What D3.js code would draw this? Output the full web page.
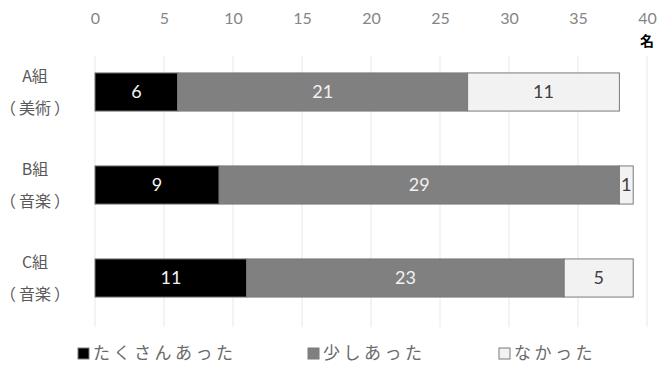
<!DOCTYPE html>
<html>
<head>
<meta charset="utf-8">
<script src="https://cdn.jsdelivr.net/npm/d3@7"></script>
<style>
  body { margin: 0; background: #fff; }
  text { font-family: Lato, "Noto Sans CJK JP", sans-serif; }
  .jp { font-family: "Noto Sans CJK JP", sans-serif; }
</style>
</head>
<body>
<div id="chart"></div>
<script>
// data
var groups = ["A組", "B組", "C組"];
var subjects = ["美術", "音楽", "音楽"];
var seriesNames = ["たくさんあった", "少しあった", "なかった"];
var many = [6, 9, 11];
var some = [21, 29, 23];
var none = [11, 1, 5];
var xTicks = [0, 5, 10, 15, 20, 25, 30, 35, 40];

var width = 665, height = 366;
var colors = ["#000000", "#808080", "#f2f2f2"];
var labelColors = ["#f2f2f2", "#f2f2f2", "#404040"];

var svg = d3.select("#chart")
  .append("svg")
    .attr("width", width)
    .attr("height", height);

var xScale = d3.scaleLinear()
    .domain([0, 40])
    .range([95, 647]);

var yScale = d3.scaleBand()
    .domain(groups)
    .range([45.5, 324.5])
    .paddingInner(0.59)
    .paddingOuter(0.295);

// grid
svg.append("g")
  .selectAll("line")
  .data(xTicks)
  .join("line")
    .attr("x1", d => xScale(d))
    .attr("x2", d => xScale(d))
    .attr("y1", 56)
    .attr("y2", 327)
    .attr("stroke", "#e8e8e8")
    .attr("stroke-width", 1);

// top axis labels
var axis = svg.append("g")
    .attr("transform", "translate(0,24)")
    .call(d3.axisTop(xScale).tickValues(xTicks).tickSize(0).tickPadding(0));
axis.select(".domain").remove();
axis.selectAll("text")
    .attr("fill", "#858585")
    .style("font-size", "16px");

svg.append("text")
    .attr("class", "jp")
    .attr("x", xScale(40))
    .attr("y", 41)
    .attr("dy", "0.36em")
    .attr("text-anchor", "middle")
    .attr("fill", "#000")
    .style("font-size", "14px")
    .style("font-weight", "bold")
    .text("名");

// stacked data
var rows = groups.map(function(g, i) {
  return { group: g, vals: [many[i], some[i], none[i]] };
});

var barG = svg.append("g");
rows.forEach(function(r) {
  var start = 0;
  r.vals.forEach(function(v, k) {
    var x0 = xScale(start), x1 = xScale(start + v);
    barG.append("rect")
      .attr("x", x0)
      .attr("y", yScale(r.group))
      .attr("width", x1 - x0)
      .attr("height", yScale.bandwidth())
      .attr("fill", colors[k])
      .attr("stroke", "#7a7a7a")
      .attr("stroke-width", 1);
    barG.append("text")
      .attr("x", (x0 + x1) / 2)
      .attr("y", yScale(r.group) + yScale.bandwidth() / 2)
      .attr("dy", "0.36em")
      .attr("text-anchor", "middle")
      .attr("fill", labelColors[k])
      .style("font-size", "18px")
      .text(v);
    start += v;
  });
});

// category labels
groups.forEach(function(g, i) {
  var cy = yScale(g) + yScale.bandwidth() / 2;
  svg.append("text")
    .attr("class", "jp")
    .attr("x", 35)
    .attr("y", cy - 16)
    .attr("dy", "0.36em")
    .attr("text-anchor", "middle")
    .attr("fill", "#595959")
    .style("font-size", "16px")
    .text(g);
  var t = svg.append("text")
    .attr("class", "jp")
    .attr("x", 35)
    .attr("y", cy + 16)
    .attr("dy", "0.36em")
    .attr("text-anchor", "middle")
    .attr("fill", "#595959")
    .style("font-size", "16px");
  t.append("tspan").text("（");
  t.append("tspan").attr("dx", 3).text(subjects[i]);
  t.append("tspan").attr("dx", 3).text("）");
});

// legend
var legendX = [78, 308, 499];
var lg = svg.append("g");
seriesNames.forEach(function(name, k) {
  lg.append("rect")
    .attr("x", legendX[k])
    .attr("y", 348)
    .attr("width", 11)
    .attr("height", 11)
    .attr("fill", colors[k])
    .attr("stroke", "#7a7a7a");
  lg.append("text")
    .attr("class", "jp")
    .attr("x", legendX[k] + 15)
    .attr("y", 353)
    .attr("dy", "0.36em")
    .attr("fill", "#6a6a6a")
    .style("font-size", "17px")
    .style("letter-spacing", "3.5px")
    .text(name);
});
</script>
</body>
</html>
